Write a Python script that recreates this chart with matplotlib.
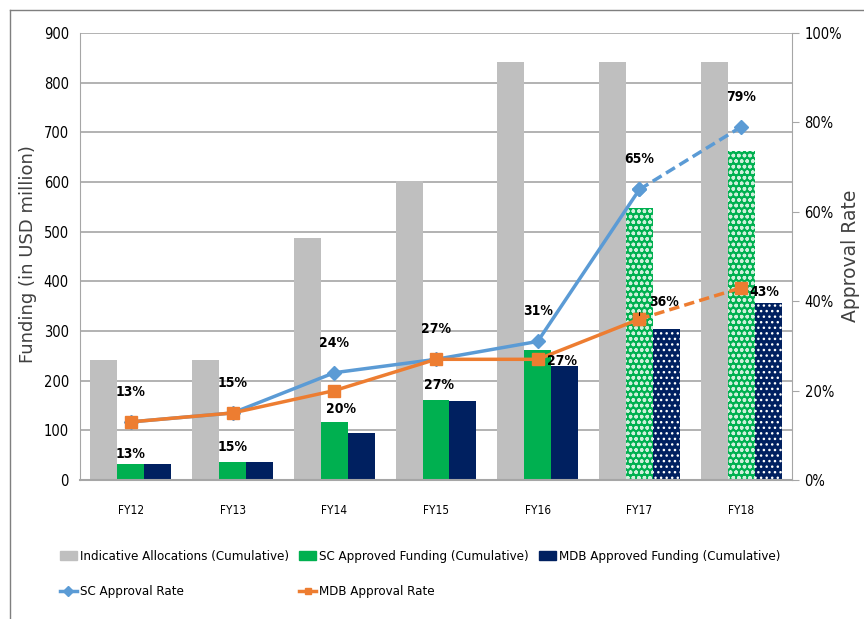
import numpy as np
import matplotlib
matplotlib.use("Agg")
import matplotlib.pyplot as plt
from matplotlib.lines import Line2D
from matplotlib.patches import Patch
from matplotlib.font_manager import FontProperties

# data
years = ["FY12", "FY13", "FY14", "FY15", "FY16", "FY17", "FY18"]
indicative = [242, 242, 487, 602, 842, 842, 842]
sc_funding = [32, 36, 117, 162, 262, 548, 662]
mdb_funding = [32, 36, 95, 159, 229, 305, 356]
sc_rate = [13, 15, 24, 27, 31, 65, 79]
mdb_rate = [13, 15, 20, 27, 27, 36, 43]
projected = [False, False, False, False, False, True, True]

# label offsets in pixels (dx, dy) for the rate labels
sc_offsets = [(0, 30)] * 7
mdb_offsets = [(0, -32), (0, -34), (7, -18), (3, -26), (24, -2), (25, 17), (23, -4)]

GRAY = "#BFBFBF"
GREEN = "#00B050"
NAVY = "#002060"
BLUE = "#5B9BD5"
ORANGE = "#ED7D31"
GRID = "#A6A6A6"

cond = dict(family="DejaVu Sans", stretch="condensed")

fig = plt.figure(figsize=(8.64, 6.19), dpi=100)
ax = fig.add_axes([80 / 864, 1 - 480 / 619, 712 / 864, 447 / 619])
ax2 = ax.twinx()

x = np.arange(len(years))
w = 0.265

ax.bar(x - w, indicative, w, color=GRAY, zorder=2)
for i in range(len(years)):
    if projected[i]:
        ax.bar(x[i], sc_funding[i], w, color=GREEN, edgecolor="#CFF0DC",
               hatch="ooo", linewidth=0, zorder=2)
        ax.bar(x[i] + w, mdb_funding[i], w, color=NAVY, edgecolor="white",
               hatch="...", linewidth=0, zorder=2)
    else:
        ax.bar(x[i], sc_funding[i], w, color=GREEN, zorder=2)
        ax.bar(x[i] + w, mdb_funding[i], w, color=NAVY, zorder=2)

ax.set_xlim(-0.5, len(years) - 0.5)
ax.set_ylim(0, 900)
ax.set_yticks(range(0, 901, 100))
ax.yaxis.grid(True, color=GRID, linewidth=1.2, zorder=0)
ax.set_axisbelow(True)
ax.set_xticks(x)
ax.set_xticklabels(years, fontsize=8.5, **cond)
ax.tick_params(axis="x", length=0, pad=17)
ax.tick_params(axis="y", length=0, pad=8)
ax.set_yticklabels([str(v) for v in range(0, 901, 100)], fontsize=10.5, **cond)
for s in ["top", "right"]:
    ax.spines[s].set_visible(False)
ax.spines["left"].set_color(GRID)
ax.spines["bottom"].set_color(GRID)
ax.spines["bottom"].set_linewidth(1.5)

# approval rate lines: solid up to FY17, dashed for projection
last = projected.index(True)
for rate, col, mk, ms in [(sc_rate, BLUE, "D", 7), (mdb_rate, ORANGE, "s", 8)]:
    ax2.plot(x[:last + 1], rate[:last + 1], color=col, lw=2.5, marker=mk,
             ms=ms, zorder=5)
    ax2.plot(x[last:], rate[last:], color=col, lw=2.5, ls=(0, (3, 1.5)),
             marker=mk, ms=ms, zorder=5)

ax2.set_ylim(0, 100)
ax2.set_yticks(range(0, 101, 20))
ax2.set_yticklabels([f"{v}%" for v in range(0, 101, 20)], fontsize=10.5, **cond)
ax2.tick_params(axis="y", length=5, color=GRID, pad=4)
for s in ["top", "left", "bottom"]:
    ax2.spines[s].set_visible(False)
ax2.spines["right"].set_color(GRID)

lab = dict(textcoords="offset pixels", ha="center", va="center", fontsize=10,
           fontweight="bold", zorder=6, **cond)
for i in range(len(years)):
    ax2.annotate(f"{sc_rate[i]}%", (x[i], sc_rate[i]), xytext=sc_offsets[i], **lab)
    if i == last:
        ax2.annotate(f"{mdb_rate[i]}%", (x[i], mdb_rate[i]),
                     xytext=mdb_offsets[i], **lab,
                     arrowprops=dict(arrowstyle="-", color="black", lw=0.8,
                                     shrinkA=9, shrinkB=3,
                                     connectionstyle="angle,angleA=0,angleB=90,rad=0"))
    else:
        ax2.annotate(f"{mdb_rate[i]}%", (x[i], mdb_rate[i]),
                     xytext=mdb_offsets[i], **lab)

fig.text(28 / 864, 1 - 254 / 619, "Funding (in USD million)", rotation=90,
         ha="center", va="center", fontsize=13, color="#404040")
fig.text(851 / 864, 1 - 256 / 619, "Approval Rate", rotation=90,
         ha="center", va="center", fontsize=13.5, color="#404040")

handles = [
    Patch(color=GRAY, label="Indicative Allocations (Cumulative)"),
    Patch(color=GREEN, label="SC Approved Funding (Cumulative)"),
    Patch(color=NAVY, label="MDB Approved Funding (Cumulative)"),
    Line2D([], [], color=BLUE, lw=2.5, marker="D", ms=5, label="SC Approval Rate"),
    Line2D([], [], color=ORANGE, lw=2.5, marker="s", ms=5, label="MDB Approval Rate"),
]
order = [0, 3, 1, 4, 2]
fig.legend([handles[k] for k in order], [handles[k].get_label() for k in order],
           ncol=3, loc="upper left", bbox_to_anchor=(48 / 864, 1 - 538 / 619),
           frameon=False, prop=FontProperties(size=9.5, **cond),
           handlelength=1.3, handletextpad=0.2, columnspacing=0.8,
           labelspacing=1.7)

# outer frame of the original slide
fig.add_artist(Line2D([10 / 864, 10 / 864], [0, 1 - 10 / 619],
                      transform=fig.transFigure, color="#7F7F7F", lw=1))
fig.add_artist(Line2D([10 / 864, 1], [1 - 10 / 619, 1 - 10 / 619],
                      transform=fig.transFigure, color="#7F7F7F", lw=1))

fig.savefig("out.png", dpi=100)
